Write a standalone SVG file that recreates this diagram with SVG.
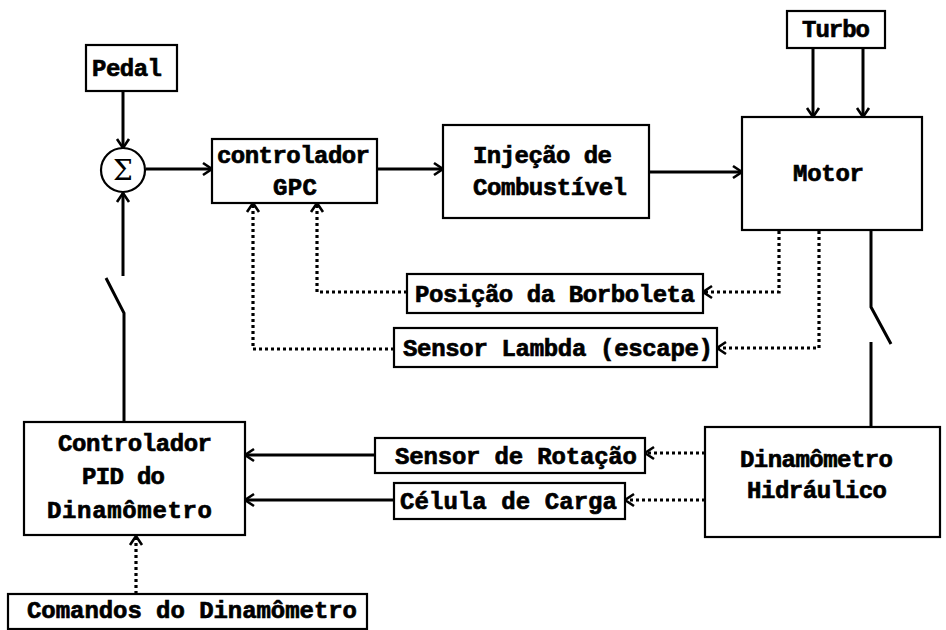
<svg xmlns="http://www.w3.org/2000/svg" width="946" height="630" viewBox="0 0 946 630">
  <defs>
    <marker id="arr" markerUnits="userSpaceOnUse" markerWidth="16" markerHeight="16" viewBox="0 0 16 16" refX="13" refY="8" orient="auto">
      <path d="M4,2 L13,8 L4,14" fill="none" stroke="#000" stroke-width="2.6" stroke-linejoin="miter"/>
    </marker>
    <style>
      rect.box { fill: #fff; stroke: #000; stroke-width: 2.2; }
      .solid { fill: none; stroke: #000; stroke-width: 3; }
      .dot { fill: none; stroke: #000; stroke-width: 3.2; stroke-dasharray: 3 3; }
    </style>
  </defs>
  <rect width="946" height="630" fill="#fff"/>

  <!-- connectors -->
  <g id="connectors">
    <line class="solid" x1="123" y1="92" x2="123" y2="148" marker-end="url(#arr)"/>
    <line class="solid" x1="146" y1="169" x2="212" y2="169" marker-end="url(#arr)"/>
    <line class="solid" x1="377" y1="169" x2="443" y2="169" marker-end="url(#arr)"/>
    <line class="solid" x1="649" y1="172" x2="742" y2="172" marker-end="url(#arr)"/>
    <line class="solid" x1="813" y1="48" x2="813" y2="117" marker-end="url(#arr)"/>
    <line class="solid" x1="863" y1="48" x2="863" y2="117" marker-end="url(#arr)"/>

    <!-- motor feedback to the sensors -->
    <polyline class="dot" points="779,231 779,292 703,292" marker-end="url(#arr)"/>
    <polyline class="dot" points="819,231 819,348 717,348" marker-end="url(#arr)"/>
    <!-- sensors back to the GPC -->
    <polyline class="dot" points="407,292 317,292 317,203" marker-end="url(#arr)"/>
    <polyline class="dot" points="394,349 253,349 253,203" marker-end="url(#arr)"/>

    <!-- motor / dynamometer shaft switch -->
    <polyline class="solid" points="871,230 871,307 891,344"/>
    <line class="solid" x1="871" y1="342" x2="871" y2="427"/>

    <!-- PID output switch to the summing junction -->
    <polyline class="solid" points="124,422 124,313 106,278"/>
    <line class="solid" x1="123" y1="276" x2="123" y2="193" marker-end="url(#arr)"/>

    <!-- dynamometer signals -->
    <line class="dot" x1="705" y1="453" x2="645" y2="453" marker-end="url(#arr)"/>
    <line class="dot" x1="705" y1="500" x2="625" y2="500" marker-end="url(#arr)"/>
    <line class="solid" x1="375" y1="455" x2="245" y2="455" marker-end="url(#arr)"/>
    <line class="solid" x1="394" y1="500" x2="245" y2="500" marker-end="url(#arr)"/>

    <line class="dot" x1="136" y1="594" x2="136" y2="536" marker-end="url(#arr)"/>
  </g>

  <g id="nodes" font-family="Liberation Mono, Courier New, monospace" font-weight="bold" font-size="24" fill="#000" stroke="#000" stroke-width="0.7">
    <g id="pedal">
      <rect class="box" x="86" y="45" width="91" height="46"/>
      <text x="92" y="76" textLength="70">Pedal</text>
    </g>

    <g id="soma">
      <circle cx="123" cy="170" r="22" fill="#fff" stroke="#000" stroke-width="2.2"/>
      <text x="123" y="180" text-anchor="middle" font-family="DejaVu Serif, serif" font-weight="normal" stroke-width="0" font-size="28">Σ</text>
    </g>

    <g id="gpc">
      <rect class="box" x="212" y="139" width="165" height="64"/>
      <text x="217" y="163" textLength="153">controlador</text>
      <text x="273" y="195" textLength="44">GPC</text>
    </g>

    <g id="injecao">
      <rect class="box" x="443" y="125" width="206" height="93"/>
      <text x="473" y="163" textLength="139">Injeção de</text>
      <text x="473" y="195" textLength="154">Combustível</text>
    </g>

    <g id="turbo">
      <rect class="box" x="787" y="11" width="98" height="37"/>
      <text x="802" y="37" textLength="68">Turbo</text>
    </g>

    <g id="motor">
      <rect class="box" x="742" y="117" width="180" height="113"/>
      <text x="793" y="181" textLength="71">Motor</text>
    </g>

    <g id="posicao">
      <rect class="box" x="407" y="274" width="296" height="39"/>
      <text x="415" y="302" textLength="280">Posição da Borboleta</text>
    </g>

    <g id="lambda">
      <rect class="box" x="394" y="328" width="323" height="39"/>
      <text x="403" y="356" textLength="310">Sensor Lambda (escape)</text>
    </g>

    <g id="pid">
      <rect class="box" x="24" y="422" width="221" height="113"/>
      <text x="58" y="451" textLength="154">Controlador</text>
      <text x="82" y="484" textLength="83">PID do</text>
      <text x="47" y="518" textLength="165">Dinamômetro</text>
    </g>

    <g id="rotacao">
      <rect class="box" x="375" y="438" width="270" height="35"/>
      <text x="395" y="464" textLength="242">Sensor de Rotação</text>
    </g>

    <g id="carga">
      <rect class="box" x="394" y="483" width="231" height="36"/>
      <text x="400" y="509" textLength="217">Célula de Carga</text>
    </g>

    <g id="dinamometro">
      <rect class="box" x="705" y="427" width="235" height="110"/>
      <text x="740" y="467" textLength="153">Dinamômetro</text>
      <text x="747" y="498" textLength="140">Hidráulico</text>
    </g>

    <g id="comandos">
      <rect class="box" x="8" y="594" width="359" height="35"/>
      <text x="27" y="618" textLength="330">Comandos do Dinamômetro</text>
    </g>
  </g>
</svg>
